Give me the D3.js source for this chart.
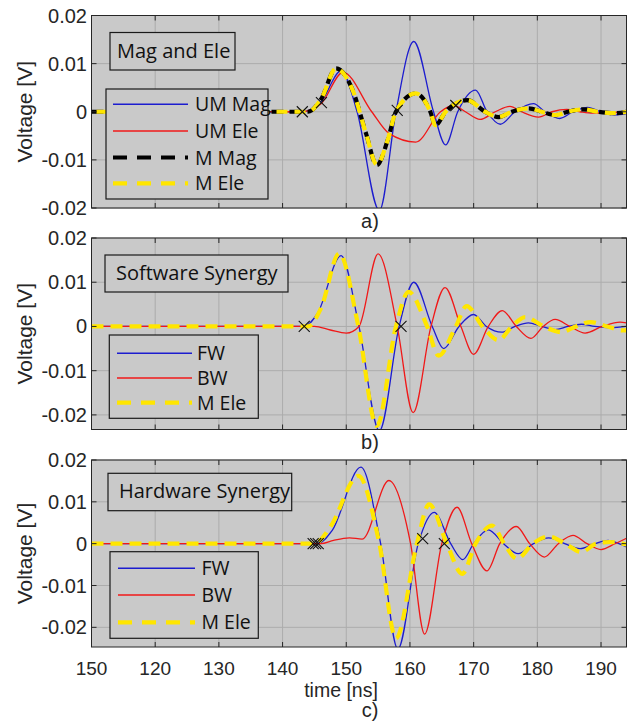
<!DOCTYPE html>
<html>
<head>
<meta charset="utf-8">
<script src="https://cdn.jsdelivr.net/npm/d3@7"></script>
<style>
  body { margin: 0; background: #fff; }
  svg { display: block; }
</style>
</head>
<body>
<svg id="chart" width="635" height="724"></svg>
<script>
// x ticks (ns) and their printed labels (first label printed as in the source figure)
const xTicks = [110, 120, 130, 140, 150, 160, 170, 180, 190];
const xTickLabels = ["150", "120", "130", "140", "150", "160", "170", "180", "190"];
const yTicks = [-0.02, -0.01, 0, 0.01, 0.02];
const yTickLabels = ["-0.02", "-0.01", "0", "0.01", "0.02"];

// panel a) Mag and Ele  [time ns, voltage V]
const aUMMag = [[110,0],[143,0],[146,0.002],[149.2,0.0085],[151.7,0],[155.2,-0.0205],[157.8,0],[160.6,0.0146],[163.7,0],[165.6,-0.0069],[167.5,0],[170.3,0.0045],[172.1,0],[174.2,-0.0026],[176.5,0],[179.4,0.0017],[181.2,0],[183.5,-0.0014],[185.6,0],[187.9,0.0009],[190,0],[192.1,-0.0007],[194,-0.0004]];
const aUMEle = [[110,0],[143,0],[146,0.0016],[149.5,0.0082],[154,0],[156.7,-0.0045],[160.9,-0.0063],[164.8,0],[166.9,0.0013],[168.7,0],[171,-0.0016],[173.4,0],[175.7,0.0011],[177.5,0],[180.2,-0.0011],[182.3,0],[184.6,0.0005],[186.7,0],[188.7,-0.0003],[194,0]];
const aMMag = [[110,0],[144,0],[146,0.0025],[148.4,0.009],[151,0.0045],[153.1,-0.0045],[154.8,-0.0111],[156.5,-0.0059],[157.8,0],[160.9,0.0038],[163.2,0],[164,-0.0028],[165.6,0],[169,0.0024],[171.8,0],[173.9,-0.0011],[176,0],[178.6,0.0007],[180.7,0],[182.8,-0.0007],[184.8,0],[187.2,0.0005],[189.5,0],[192.1,-0.0003],[194,0]];
const aMEle = [[110,0],[144,0],[146,0.0025],[148.4,0.009],[151,0.0045],[153.1,-0.0045],[154.8,-0.011],[156.5,-0.0059],[157.8,0],[160.9,0.0038],[163.2,0],[164,-0.0028],[165.6,0],[169,0.0024],[171.8,0],[173.9,-0.0011],[176,0],[178.6,0.0007],[180.7,0],[182.8,-0.0007],[184.8,0],[187.2,0.0005],[189.5,0],[192.1,-0.0003],[194,0]];
const aMarks = [[143.1,0],[146.1,0.0019],[158,0.0003],[167.2,0.0013]];

// panel b) Software Synergy
const bFW = [[110,0],[143.4,0],[145.5,0.003],[149.2,0.016],[152,0],[155.2,-0.0236],[158.3,0],[160.6,0.01],[163.5,0],[165.3,-0.005],[167.7,0],[170,0.0027],[172,0],[174.4,-0.0013],[176.5,0],[178.6,0.0008],[180.7,0],[182.8,-0.0007],[184.8,0],[186.9,0.0005],[189,0],[191.5,-0.0003],[194,0]];
const bBW = [[110,0],[145,0],[147.5,-0.0008],[150,-0.0015],[152,0],[155,0.0164],[158,0],[160.5,-0.0195],[163.3,0],[165.5,0.0088],[168,0],[170,-0.0063],[172.3,0],[174.5,0.0036],[176.7,0],[179,-0.0027],[180.9,0],[182.8,0.0016],[185.1,0],[187.5,-0.0015],[190.2,0],[193,0.001],[194,0.0008]];
const bMEle = [[110,0],[144,0],[146,0.004],[148.9,0.0165],[151.9,0],[154.8,-0.0225],[157.8,0],[159.8,0.0078],[162.7,0],[164.5,-0.0066],[167.2,0],[168.9,0.0046],[171.4,0],[173.9,-0.0031],[176,0],[178.1,0.0021],[181,0],[183.8,-0.0013],[186,0],[188.4,0.001],[191,0],[193.4,-0.0009],[194,-0.0009]];
const bMarks = [[143.4,0],[158.6,0]];

// panel c) Hardware Synergy
const cFW = [[110,0],[145.5,0],[147.8,0.0032],[152.3,0.0183],[155.4,0],[158.1,-0.0252],[161.3,0],[163.8,0.0075],[166.4,0],[168.3,-0.0038],[170,0],[172.3,0.0033],[174.7,0],[177,-0.0024],[179.4,0],[181.8,0.0014],[184.3,0],[186.7,-0.0012],[189,0],[191.1,0.0008],[192.8,0],[194,-0.0008]];
const cBW = [[110,0],[146,0],[148,0.0008],[150.5,0.0014],[152.5,0.0011],[156.7,0.0151],[160.1,0],[162.3,-0.0216],[165,0],[167.4,0.0087],[169.7,0],[172.1,-0.0065],[174.1,0],[176.7,0.0041],[178.8,0],[181.1,-0.0032],[183.3,0],[185.6,0.002],[187.8,0],[190,-0.0014],[192.2,0],[194,0.0013]];
const cMEle = [[110,0],[145,0],[147.5,0.004],[151.9,0.0162],[155.2,0],[157.8,-0.0226],[161.1,0],[163,0.0094],[165.8,0],[168.2,-0.0072],[170.3,0],[172.9,0.0043],[174.8,0],[176.8,-0.0036],[179.3,0],[181.8,0.0017],[184.4,0],[186.9,-0.002],[189.2,0],[191.4,0.0004],[194,-0.0002]];
const cMarks = [[144.8,0],[145.2,0],[145.6,0],[162,0.0012],[165.4,0]];

const BLUE = "#1c1ccf", RED = "#f01818", YELLOW = "#ffe600", BLACK = "#000";

const panels = [
  {
    top: 15.5, bottom: 208, yDomain: [-0.02, 0.02], tag: "a)", tagY: 228,
    title: "Mag and Ele", titleBox: [110, 32.5, 125, 37.5], titleText: [117, 57.5],
    legBox: [106, 89, 162, 110], legLine: [113, 188], legTextX: 195, legY: [104.3, 131, 157.5, 183.3],
    series: [
      { name: "UM Mag", data: aUMMag, color: BLUE, w: 1.3 },
      { name: "UM Ele", data: aUMEle, color: RED, w: 1.3 },
      { name: "M Mag", data: aMMag, color: BLACK, w: 4.2, dash: "12,6" },
      { name: "M Ele", data: aMEle, color: YELLOW, w: 4.2, dash: "11,7", offset: -5 }
    ],
    marks: aMarks
  },
  {
    top: 238, bottom: 429.5, yDomain: [-0.0233, 0.02], tag: "b)", tagY: 449,
    title: "Software Synergy", titleBox: [105, 255, 183, 37], titleText: [116, 279.5],
    legBox: [109.3, 335, 149, 83.3], legLine: [117, 192], legTextX: 197, legY: [353.3, 378, 402.7],
    series: [
      { name: "FW", data: bFW, color: BLUE, w: 1.3 },
      { name: "BW", data: bBW, color: RED, w: 1.3 },
      { name: "M Ele", data: bMEle, color: YELLOW, w: 4.2, dash: "12,7" }
    ],
    marks: bMarks
  },
  {
    top: 460, bottom: 647, yDomain: [-0.0247, 0.02], tag: "c)", tagY: 717,
    title: "Hardware Synergy", titleBox: [108, 473.3, 183.7, 37.4], titleText: [119, 497.5],
    legBox: [110, 551.7, 148.3, 86.6], legLine: [118, 195], legTextX: 201.5, legY: [568.3, 595, 622.3],
    series: [
      { name: "FW", data: cFW, color: BLUE, w: 1.3 },
      { name: "BW", data: cBW, color: RED, w: 1.3 },
      { name: "M Ele", data: cMEle, color: YELLOW, w: 4.2, dash: "12,7" }
    ],
    marks: cMarks
  }
];

const svg = d3.select("#chart");
const left = 91.5, right = 626.5;
const axisFont = "'Liberation Sans', Arial, sans-serif";
const boxFont = "'Open Sans', 'Noto Sans', sans-serif";
const AX = "#262626";

const x = d3.scaleLinear().domain([110, 194]).range([left, right]);

panels.forEach((p, pi) => {
  const y = d3.scaleLinear().domain(p.yDomain).range([p.bottom, p.top]);
  const g = svg.append("g");

  g.append("rect")
    .attr("x", left).attr("y", p.top)
    .attr("width", right - left).attr("height", p.bottom - p.top)
    .attr("fill", "#c9c9c9");

  // grid
  g.selectAll(".gx").data(xTicks).enter().append("line")
    .attr("x1", d => x(d)).attr("x2", d => x(d))
    .attr("y1", p.top).attr("y2", p.bottom)
    .attr("stroke", "#acacac").attr("stroke-width", 1);
  g.selectAll(".gy").data(yTicks).enter().append("line")
    .attr("x1", left).attr("x2", right)
    .attr("y1", d => y(d)).attr("y2", d => y(d))
    .attr("stroke", "#acacac").attr("stroke-width", 1);

  // curves
  const clipId = "clip" + pi;
  g.append("clipPath").attr("id", clipId).append("rect")
    .attr("x", left).attr("y", p.top)
    .attr("width", right - left).attr("height", p.bottom - p.top);

  const line = d3.line()
    .x(d => x(d[0])).y(d => y(d[1]))
    .curve(d3.curveMonotoneX);

  const lines = g.append("g").attr("clip-path", `url(#${clipId})`);
  p.series.forEach(s => {
    lines.append("path")
      .attr("d", line(s.data))
      .attr("fill", "none")
      .attr("stroke", s.color)
      .attr("stroke-width", s.w)
      .attr("stroke-dasharray", s.dash || null)
      .attr("stroke-dashoffset", s.offset || 0);
  });

  // cross markers
  const r = 5.5;
  const mk = lines.selectAll(".mk").data(p.marks).enter().append("g")
    .attr("transform", d => `translate(${x(d[0])},${y(d[1])})`);
  mk.append("path")
    .attr("d", `M${-r},${-r}L${r},${r}M${-r},${r}L${r},${-r}`)
    .attr("stroke", "#111").attr("stroke-width", 1.1);

  // axes with inward ticks on all four sides
  const tl = 5;
  g.selectAll(".tb").data(xTicks).enter().append("path")
    .attr("d", d => `M${x(d)},${p.bottom}v${-tl}M${x(d)},${p.top}v${tl}`)
    .attr("stroke", AX).attr("stroke-width", 1);
  g.selectAll(".tl").data(yTicks).enter().append("path")
    .attr("d", d => `M${left},${y(d)}h${tl}M${right},${y(d)}h${-tl}`)
    .attr("stroke", AX).attr("stroke-width", 1);
  g.append("rect")
    .attr("x", left).attr("y", p.top)
    .attr("width", right - left).attr("height", p.bottom - p.top)
    .attr("fill", "none").attr("stroke", AX).attr("stroke-width", 1);

  g.selectAll(".yl").data(yTicks).enter().append("text")
    .attr("x", left - 4.5).attr("y", d => y(d) + 7)
    .attr("text-anchor", "end")
    .attr("font-family", axisFont).attr("font-size", 20)
    .attr("fill", AX)
    .text((d, i) => yTickLabels[i]);

  g.append("text")
    .attr("transform", `translate(32,${(p.top + p.bottom) / 2}) rotate(-90)`)
    .attr("text-anchor", "middle")
    .attr("font-family", axisFont).attr("font-size", 21)
    .attr("fill", AX)
    .text("Voltage [V]");

  g.append("text")
    .attr("x", 370).attr("y", p.tagY)
    .attr("text-anchor", "middle")
    .attr("font-family", axisFont).attr("font-size", 20)
    .attr("fill", AX)
    .text(p.tag);

  // title box
  g.append("rect")
    .attr("x", p.titleBox[0]).attr("y", p.titleBox[1])
    .attr("width", p.titleBox[2]).attr("height", p.titleBox[3])
    .attr("fill", "#c9c9c9").attr("stroke", "#1a1a1a").attr("stroke-width", 1.2);
  g.append("text")
    .attr("x", p.titleText[0]).attr("y", p.titleText[1])
    .attr("font-family", boxFont).attr("font-size", 20)
    .attr("fill", "#111")
    .text(p.title);

  // legend
  g.append("rect")
    .attr("x", p.legBox[0]).attr("y", p.legBox[1])
    .attr("width", p.legBox[2]).attr("height", p.legBox[3])
    .attr("fill", "#c9c9c9").attr("stroke", "#1a1a1a").attr("stroke-width", 1.2);
  p.series.forEach((s, i) => {
    const ly = p.legY[i];
    g.append("line")
      .attr("x1", p.legLine[0]).attr("x2", p.legLine[1])
      .attr("y1", ly).attr("y2", ly)
      .attr("stroke", s.color)
      .attr("stroke-width", s.w === 1.3 ? 1.6 : 4.2)
      .attr("stroke-dasharray", s.dash ? "14,10" : null);
    g.append("text")
      .attr("x", p.legTextX).attr("y", ly + 7)
      .attr("font-family", boxFont).attr("font-size", 19.5)
      .attr("fill", "#111")
      .text(s.name);
  });

  // x tick labels only under the last panel
  if (pi === panels.length - 1) {
    g.selectAll(".xl").data(xTicks).enter().append("text")
      .attr("x", d => x(d)).attr("y", p.bottom + 28)
      .attr("text-anchor", "middle")
      .attr("font-family", axisFont).attr("font-size", 19)
      .attr("fill", AX)
      .text((d, i) => xTickLabels[i]);
    g.append("text")
      .attr("x", 341).attr("y", 697)
      .attr("text-anchor", "middle")
      .attr("font-family", axisFont).attr("font-size", 19.5)
      .attr("fill", AX)
      .text("time [ns]");
  }
});
</script>
</body>
</html>
